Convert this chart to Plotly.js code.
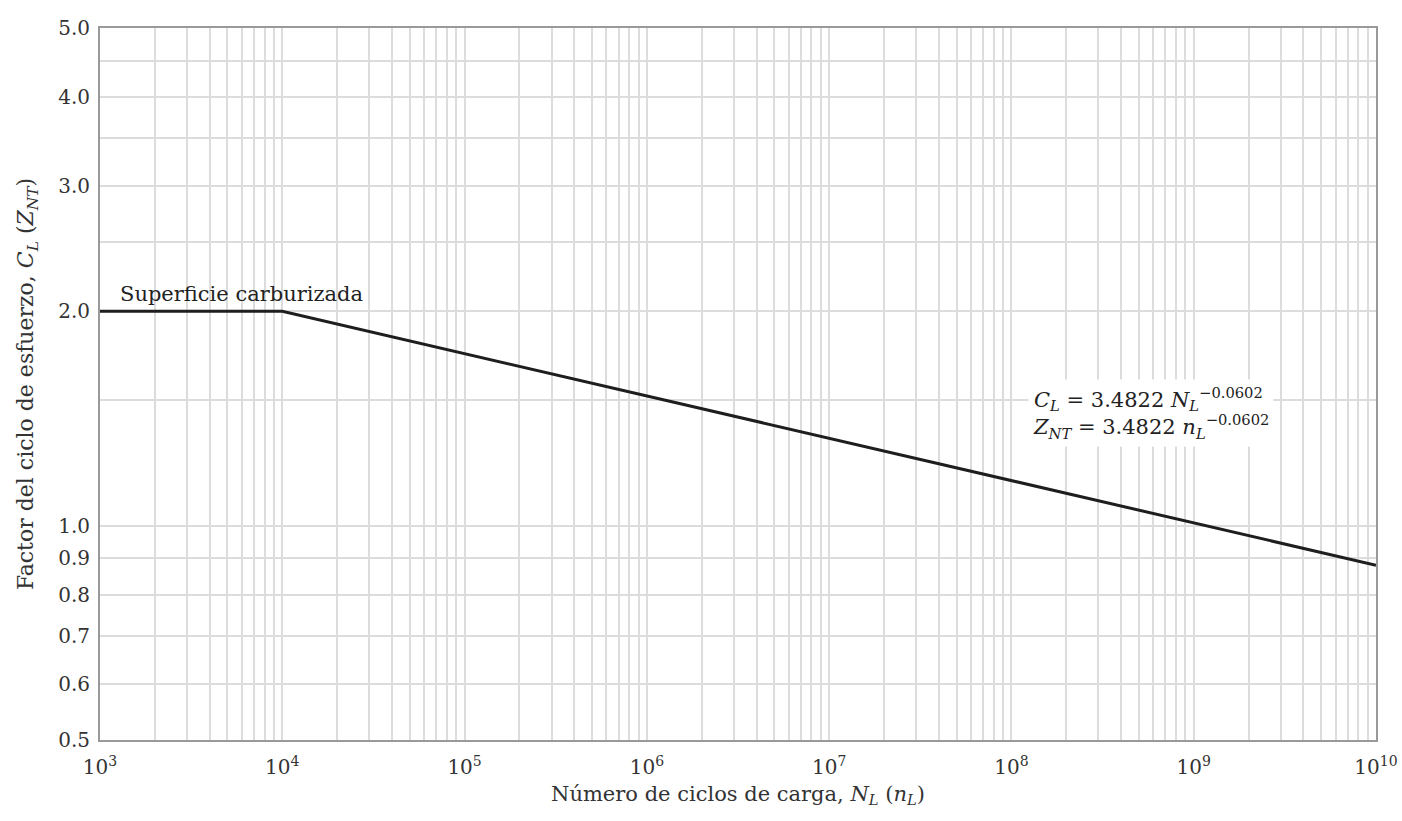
<!DOCTYPE html>
<html>
<head>
<meta charset="utf-8">
<script src="https://cdn.plot.ly/plotly-3.0.1.min.js"></script>
<style>html,body{margin:0;padding:0;background:#fff;}#chart{width:1402px;height:821px;}</style>
</head>
<body>
<div id="chart"></div>
<script>
// Data
const cycles = [1e3, 1e4, 1e10];
const factor = [2.0, 2.0, 0.88];

// X axis: decade ticks and minor gridlines
const xDecades = [3, 4, 5, 6, 7, 8, 9, 10];
const xTickLabels = ['10<sup>3</sup>','10<sup>4</sup>','10<sup>5</sup>','10<sup>6</sup>','10<sup>7</sup>','10<sup>8</sup>','10<sup>9</sup>','10<sup>10</sup>'];
const xMinorDigits = [2, 3, 4, 5, 6, 7, 8, 9];

// Y axis ticks
const yTickVals = [0.5, 0.6, 0.7, 0.8, 0.9, 1.0, 1.5, 2.0, 2.5, 3.0, 3.5, 4.0, 4.5, 5.0];
const yTickLabels = ['0.5', '0.6', '0.7', '0.8', '0.9', '1.0', '', '2.0', '', '3.0', '', '4.0', '', '5.0'];

const xTickVals = [], xTickText = [];
xDecades.forEach((d, i) => {
  xTickVals.push(Math.pow(10, d)); xTickText.push(xTickLabels[i]);
  if (d < 10) xMinorDigits.forEach(m => { xTickVals.push(m * Math.pow(10, d)); xTickText.push(''); });
});

const FONT = 'DejaVu Serif, Liberation Serif, serif';
const gridColor = '#dcdcdc';

const trace = {
  x: cycles, y: factor, type: 'scatter', mode: 'lines',
  line: {color: '#1e1e1e', width: 3}, hoverinfo: 'skip', showlegend: false
};

const layout = {
  width: 1402, height: 821,
  margin: {l: 100, r: 26, t: 28, b: 81},
  paper_bgcolor: '#fff', plot_bgcolor: '#fff',
  font: {family: FONT, size: 18, color: '#333'},
  xaxis: {
    type: 'log', range: [3, 10],
    tickmode: 'array', tickvals: xTickVals, ticktext: xTickText,
    showgrid: true, gridcolor: gridColor, gridwidth: 2,
    ticks: '', showline: true, linecolor: '#9a9a9a', linewidth: 2, mirror: true,
    zeroline: false, ticklabelstandoff: 8, tickfont: {family: FONT, size: 20, color: '#333'},
    title: {text: 'Número de ciclos de carga, <i>N<sub>L</sub></i> (<i>n<sub>L</sub></i>)', font: {family: FONT, size: 21, color: '#333'}, standoff: 8}
  },
  yaxis: {
    type: 'log', range: [Math.log10(0.5), Math.log10(5)],
    tickmode: 'array', tickvals: yTickVals, ticktext: yTickLabels,
    showgrid: true, gridcolor: gridColor, gridwidth: 2,
    ticks: '', showline: true, linecolor: '#9a9a9a', linewidth: 2, mirror: true,
    zeroline: false, ticklabelstandoff: 4, tickfont: {family: FONT, size: 20, color: '#333'},
    title: {text: 'Factor del ciclo de esfuerzo, <i>C<sub>L</sub></i> (<i>Z<sub>NT</sub></i>)', font: {family: FONT, size: 22, color: '#333'}, standoff: 18}
  },
  annotations: [
    {x: 3.1, y: Math.log10(2.0), xref: 'x', yref: 'y', xanchor: 'left', yanchor: 'bottom', yshift: 3,
     text: 'Superficie carburizada', showarrow: false, font: {family: FONT, size: 21, color: '#222'}},
    {x: 8.09, y: Math.log10(1.44), xref: 'x', yref: 'y', xanchor: 'left', yanchor: 'middle',
     align: 'left', showarrow: false, bgcolor: '#fff', borderpad: 4,
     text: '<i>C<sub>L</sub></i> = 3.4822 <i>N<sub>L</sub></i><sup>−0.0602</sup><br><i>Z<sub>NT</sub></i> = 3.4822 <i>n<sub>L</sub></i><sup>−0.0602</sup>',
     font: {family: FONT, size: 21, color: '#222'}}
  ]
};

Plotly.newPlot('chart', [trace], layout, {displayModeBar: false, staticPlot: true});
</script>
</body>
</html>
